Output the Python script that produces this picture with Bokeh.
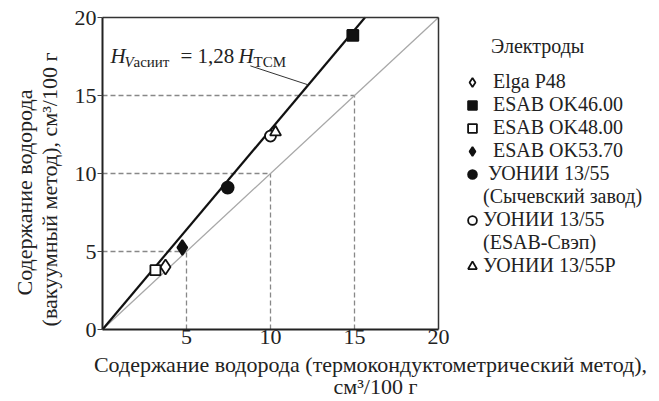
from bokeh.plotting import figure
from bokeh.models import Range1d, FixedTicker, Label, Legend, LegendItem, LinearAxis
from bokeh.embed import file_html
from bokeh.resources import INLINE
import math

# ---- data ----
legend_labels = ["Elga P48", "ESAB OK46.00", "ESAB OK48.00", "ESAB OK53.70",
                 "УОНИИ 13/55", "(Сычевский завод)", "УОНИИ 13/55", "(ESAB-Свэп)", "УОНИИ 13/55Р"]
legend_indent = [2, 2, 2, 2, 1, 0, 0, 0, 0]   # label indents (non-breaking spaces)
legend_point = [0, 1, 2, 3, 4, None, 5, None, 6]  # which point series each row shows
h_tcm = [3.75, 14.9, 3.15, 4.75, 7.45, 10.0, 10.3]
h_vac = [4.0, 18.85, 3.8, 5.25, 9.1, 12.4, 12.65]
marker_kind = ["diamond", "square", "square", "diamond", "circle", "circle", "triangle"]
marker_filled = [False, True, False, True, True, False, False]
marker_size = [15, 11, 10, 15, 12, 11, 11]
slope = 1.28
guides = [5, 10, 15]
x_ticks = [5, 10, 15, 20]
y_ticks = [0, 5, 10, 15, 20]
axis_max = 20
x_title = ["Содержание водорода (термокондуктометрический метод),", "см³/100 г"]
y_title = ["Содержание водорода", "(вакуумный метод), см³/100 г"]

FONT = "Liberation Serif"
TXT = "#222222"
NBSP = "\u00a0"

W, H = 659, 401
# where the 0..20 box sits on the canvas (pixels)
BL, BT, BR, BB = 102, 17, 438, 329
kx = (BR - BL) / axis_max
ky = (BB - BT) / axis_max

p = figure(width=W, height=H, output_backend="svg", toolbar_location=None,
           x_range=Range1d(-BL / kx, (W - BL) / kx),
           y_range=Range1d(-(H - BB) / ky, axis_max + BT / ky),
           min_border=0)
p.grid.visible = False
p.outline_line_color = None
p.background_fill_color = "white"
p.border_fill_color = "white"

for ax in (p.xaxis[0], p.yaxis[0]):
    ax.fixed_location = 0
    ax.bounds = (0, axis_max)
    ax.axis_line_width = 2
    ax.axis_line_color = TXT
    ax.major_label_text_font = FONT
    ax.major_label_text_font_size = "22px"
    ax.major_label_text_color = TXT
    ax.minor_tick_line_color = None
    ax.major_tick_line_color = "#444444"
    ax.major_tick_in = 0
p.xaxis.ticker = FixedTicker(ticks=x_ticks)
p.yaxis.ticker = FixedTicker(ticks=y_ticks)
p.xaxis.major_tick_out = 0
p.yaxis.major_tick_out = 5
p.xaxis.major_label_standoff = 0
p.yaxis.major_label_standoff = 1

# box edges (top and right) as label-less axes
top_ax = LinearAxis(fixed_location=axis_max, bounds=(0, axis_max),
                    major_tick_line_color=None, minor_tick_line_color=None,
                    major_label_text_color=None, axis_line_color="#333333", axis_line_width=1.5)
right_ax = LinearAxis(fixed_location=axis_max, bounds=(0, axis_max),
                      major_tick_line_color=None, minor_tick_line_color=None,
                      major_label_text_color=None, axis_line_color="#333333", axis_line_width=1.5)
p.add_layout(top_ax, "above")
p.add_layout(right_ax, "right")

# dashed guides
p.segment(x0=[0] * len(guides), y0=guides, x1=guides, y1=guides,
          line_color="#888888", line_width=1.3, line_dash="5 3")
p.segment(x0=guides, y0=[0] * len(guides), x1=guides, y1=guides,
          line_color="#888888", line_width=1.3, line_dash="5 3")

# y = x line
p.line([0, axis_max], [0, axis_max], line_color="#a8a8a8", line_width=1.3)
# fit line
p.line([0, axis_max / slope], [0, axis_max], line_color="#111111", line_width=2.2)

# leader line for the equation
lead_x0, lead_y0 = 8.8, 16.9
lead_x1 = 12.25
p.line([lead_x0, lead_x1], [lead_y0, slope * lead_x1], line_color="#333333", line_width=1)

renderers = []
for i in range(len(h_tcm)):
    fill = "#111111" if marker_filled[i] else "white"
    r = p.scatter([h_tcm[i]], [h_vac[i]], marker=marker_kind[i], size=marker_size[i],
                  fill_color=fill, line_color="#111111", line_width=1.8)
    renderers.append(r)

blank = p.scatter(x=[], y=[], size=1, fill_alpha=0, line_alpha=0)

items = []
for lab, ind, pt in zip(legend_labels, legend_indent, legend_point):
    rend = blank if pt is None else renderers[pt]
    items.append(LegendItem(label=NBSP * ind + lab, renderers=[rend]))

legend = Legend(items=items, location=(461, H - 277), spacing=0,
                title=NBSP * 6 + "Электроды", title_text_font=FONT, title_text_font_size="20px",
                title_text_font_style="normal", title_text_color=TXT, title_standoff=12,
                background_fill_alpha=0, border_line_alpha=0, padding=0, margin=0,
                glyph_width=22, glyph_height=22, label_standoff=0,
                label_text_font=FONT, label_text_font_size="20px",
                label_text_color=TXT, label_height=22)
p.add_layout(legend, "center")

def add_label(text, px, py, size="21px", style="normal", align="left", baseline="alphabetic", angle=0.0):
    p.add_layout(Label(x=px, y=H - py, x_units="screen", y_units="screen", text=text,
                       text_font=FONT, text_font_size=size, text_font_style=style,
                       text_align=align, text_baseline=baseline, text_color=TXT, angle=angle))

# equation
add_label("H", 110, 55, style="italic")
add_label("V", 124, 61, size="15px", style="italic")
add_label("асиит", 133, 61, size="15px")
add_label("= 1,28", 180, 55)
add_label("H", 238, 55, style="italic")
add_label("ТСМ", 253, 61, size="15px")

# axis titles
add_label(x_title[0], 370, 364, size="22px", align="center", baseline="middle")
add_label(x_title[1], 375, 386, size="22px", align="center", baseline="middle")
add_label(y_title[0], 24, 192, size="22px", align="center", baseline="middle", angle=math.pi / 2)
add_label(y_title[1], 49, 189, size="22px", align="center", baseline="middle", angle=math.pi / 2)

open("out.html", "w").write(file_html(p, INLINE))
